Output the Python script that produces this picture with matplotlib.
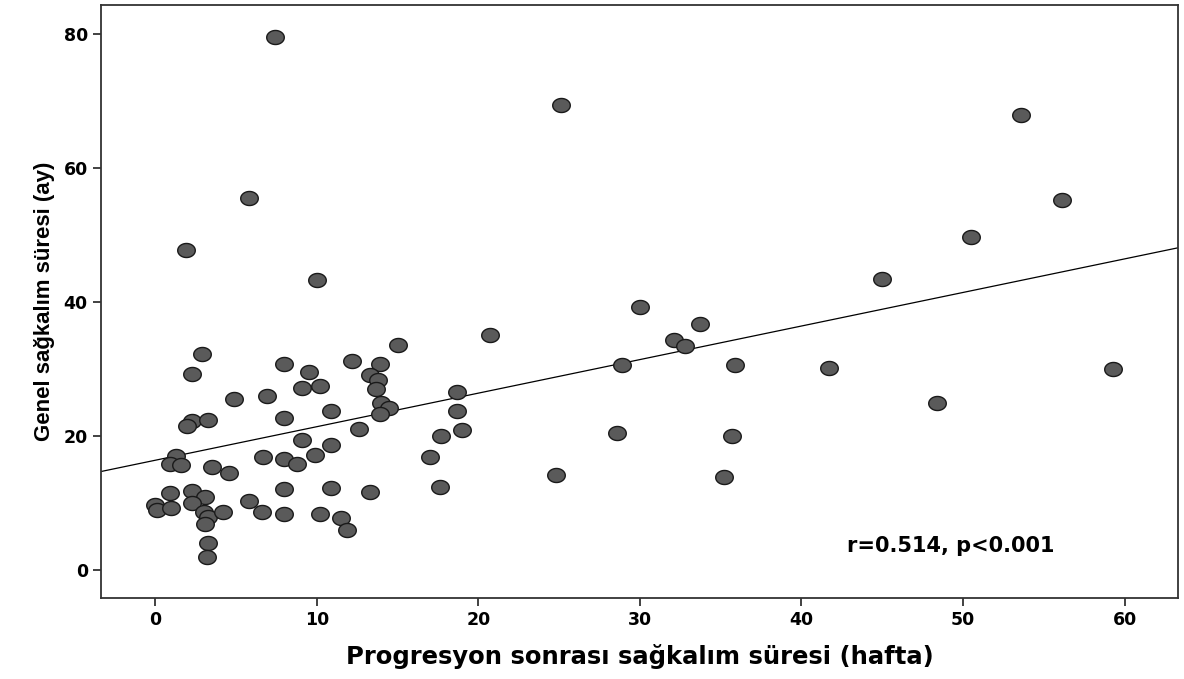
import matplotlib
matplotlib.use("Agg")
import matplotlib.pyplot as plt
import numpy as np
from matplotlib.path import Path

# progresyon sonrasi sagkalim (hafta)
pps_hafta = [2.9, 2.3, 4.9, 6.9, 8.0, 8.0, 2.3, 2.0, 3.3, 1.3,
             0.9, 1.6, 3.5, 4.6, 6.7, 8.0, 8.8, 9.1, 9.1, 0.9,
             2.3, 3.1, 2.3, 0.0, 0.1, 1.0, 3.0, 3.3, 4.2, 3.1,
             3.3, 3.2, 5.8, 6.6, 8.0, 8.0,
             20.7, 15.0, 12.2, 13.9, 9.5, 13.3, 13.8, 10.2, 13.7, 18.7,
             10.9, 14.0, 14.5, 13.9, 18.7, 19.0, 17.7, 12.6, 10.9, 9.9,
             17.0, 10.9, 13.3, 17.6, 10.2, 11.5, 11.9,
             7.4, 5.8, 1.9, 10.0, 25.1, 53.6, 56.1, 50.5, 45.0,
             30.0, 33.7, 32.1, 32.8, 28.9, 35.9, 41.7, 59.3, 48.4,
             28.6, 35.7, 24.8, 35.2]

# genel sagkalim (ay)
gs_ay = [32.2, 29.3, 25.5, 26.0, 30.7, 22.7, 22.2, 21.5, 22.4, 17.0,
         15.8, 15.6, 15.3, 14.4, 16.9, 16.5, 15.8, 19.4, 27.2, 11.5,
         11.7, 10.9, 10.0, 9.7, 9.0, 9.2, 8.6, 7.9, 8.6, 6.9,
         4.0, 1.9, 10.3, 8.6, 12.1, 8.4,
         35.1, 33.5, 31.1, 30.7, 29.5, 29.1, 28.3, 27.4, 27.0, 26.6,
         23.7, 24.9, 24.1, 23.2, 23.7, 20.9, 20.0, 21.0, 18.7, 17.1,
         16.9, 12.2, 11.6, 12.4, 8.3, 7.7, 5.9,
         79.6, 55.5, 47.8, 43.3, 69.4, 67.9, 55.2, 49.7, 43.4,
         39.3, 36.7, 34.3, 33.4, 30.6, 30.6, 30.1, 30.0, 24.9,
         20.4, 20.0, 14.2, 13.9]

x_ticks = [0, 10, 20, 30, 40, 50, 60]
y_ticks = [0, 20, 40, 60, 80]

x = np.array(pps_hafta)
y = np.array(gs_ay)

plt.rcParams['font.family'] = ['DejaVu Sans']

fig = plt.figure(figsize=(11.84, 6.79), dpi=100)
ax = fig.add_axes([0.0853, 0.1193, 0.9096, 0.8733])

# biraz yatik elips marker (orijinaldeki gibi)
t = np.linspace(0, 2 * np.pi, 60)
elips = Path(np.column_stack([np.cos(t), 0.8 * np.sin(t)]), closed=True)

ax.scatter(x, y, marker=elips, s=160, facecolor='#5a5a5a',
           edgecolor='#1a1a1a', linewidth=1.0, zorder=3)

xmin, xmax = -3.35, 63.3
egim, kesisim = np.polyfit(x, y, 1)
xl = np.array([xmin, xmax])
ax.plot(xl, kesisim + egim * xl, color='black', linewidth=0.9, zorder=2)

ax.set_xlim(xmin, xmax)
ax.set_ylim(-4.2, 84.3)
ax.set_xticks(x_ticks)
ax.set_yticks(y_ticks)

for sp in ax.spines.values():
    sp.set_color('#333333')
    sp.set_linewidth(1.3)

ax.tick_params(direction='out', length=6, width=1.3, color='#333333',
               labelsize=12.5)
for lab in ax.get_xticklabels() + ax.get_yticklabels():
    lab.set_fontweight('bold')

ax.set_xlabel('Progresyon sonrası sağkalım süresi (hafta)', fontsize=17.5,
              fontweight='bold', labelpad=11)
ax.set_ylabel('Genel sağkalım süresi (ay)', fontsize=16, fontweight='bold',
              family=['Liberation Sans', 'DejaVu Sans'], labelpad=6)

ax.text(0.789, 0.088, 'r=0.514, p<0.001', transform=ax.transAxes,
        fontsize=15, fontweight='bold', ha='center', va='center')

fig.savefig('out.png', dpi=100)
